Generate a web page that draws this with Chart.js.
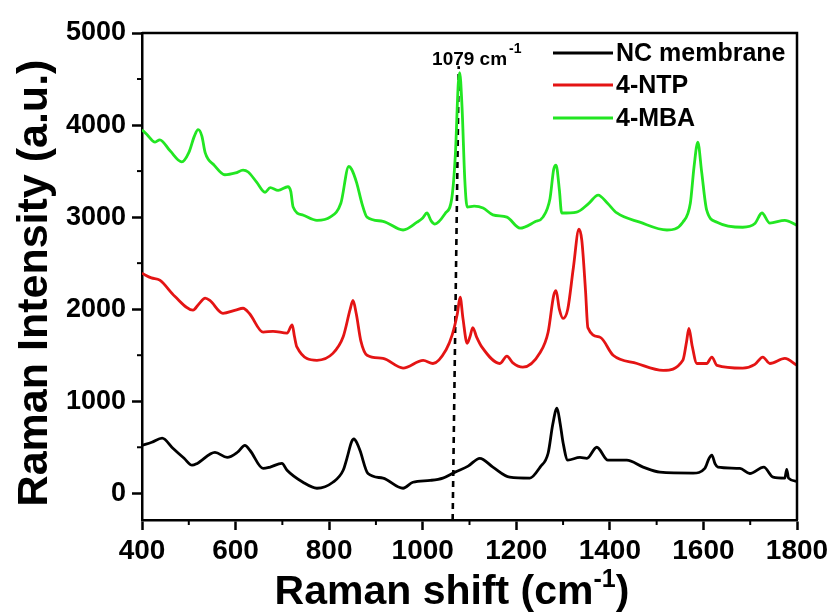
<!DOCTYPE html>
<html>
<head>
<meta charset="utf-8">
<script src="https://cdn.jsdelivr.net/npm/chart.js@4.4.1/dist/chart.umd.min.js"></script>
<style>
html,body{margin:0;padding:0;background:#fff;}
#wrap{width:839px;height:613px;position:relative;}
</style>
</head>
<body>
<div id="wrap"><canvas id="c" width="839" height="613"></canvas></div>
<script>
// ---- data ----
const seriesLabels = ["NC membrane", "4-NTP", "4-MBA"];
const seriesColors = ["#000000", "#e41414", "#22e622"];

const ncX = [400,421,443,466,490,507,518,556,582,605,620,631,659,674,699,710,744,774,808,830,838,848,853,860,866,883,915,958,979,1016,1043,1069,1097,1122,1150,1186,1229,1251,1268,1278,1287,1294,1300,1310,1336,1351,1372,1396,1436,1471,1507,1578,1603,1612,1618,1625,1631,1678,1699,1729,1749,1774,1778,1782,1800];
const ncY = [520,555,600,490,380,305,325,445,390,450,520,465,270,285,325,250,120,55,120,250,380,560,590,540,465,215,165,55,120,140,165,230,295,380,285,175,165,285,435,750,925,750,550,360,390,380,500,360,360,285,230,220,270,380,415,320,285,270,215,285,175,165,260,165,130];

const ntpX = [400,420,438,470,509,522,535,545,573,600,616,630,659,680,710,721,726,731,774,808,830,845,851,858,868,881,915,958,1001,1022,1050,1063,1074,1080,1086,1095,1101,1107,1115,1127,1165,1180,1192,1214,1251,1268,1280,1285,1292,1300,1310,1322,1334,1340,1348,1353,1379,1407,1458,1514,1556,1564,1569,1576,1586,1607,1618,1629,1684,1710,1727,1742,1774,1800];
const ntpY = [2390,2340,2315,2140,1990,2060,2120,2095,1955,1990,2010,1950,1750,1760,1740,1830,1700,1590,1445,1520,1700,2000,2095,1950,1650,1500,1465,1360,1445,1410,1560,1720,1950,2130,1900,1630,1700,1800,1700,1585,1410,1490,1420,1370,1530,1750,2150,2200,2000,1900,2000,2450,2870,2750,2200,1800,1695,1500,1410,1335,1445,1650,1790,1600,1410,1410,1480,1390,1360,1400,1480,1410,1465,1390];

const mbaX = [400,410,428,438,460,485,500,512,520,528,535,555,577,600,616,627,645,663,674,691,712,718,723,745,774,802,825,842,848,859,870,881,915,958,988,1000,1009,1018,1026,1048,1062,1070,1076,1079,1084,1090,1095,1110,1129,1150,1180,1208,1240,1257,1272,1280,1285,1292,1297,1329,1355,1375,1395,1415,1464,1522,1556,1572,1580,1588,1596,1607,1629,1684,1710,1725,1742,1774,1800];
const mbaY = [3950,3900,3815,3840,3720,3600,3700,3880,3950,3880,3700,3560,3460,3480,3510,3490,3380,3270,3320,3290,3330,3280,3110,3020,2965,3000,3150,3550,3520,3370,3150,3000,2955,2860,2945,2990,3045,2960,2925,3040,3200,3700,4450,4570,4200,3400,3110,3120,3100,3025,3000,2880,2950,3000,3200,3520,3565,3300,3045,3055,3150,3240,3150,3045,2945,2860,2945,3150,3550,3815,3500,3075,2945,2890,2930,3045,2935,2965,2910];

const markerX = [1064, 1077];
const markerY = [-290, 4640];
const markerLabel = "1079 cm";
const markerSup = "-1";

const xTicks = [400,600,800,1000,1200,1400,1600,1800];
const xMinor = [500,700,900,1100,1300,1500,1700];
const yTicks = [0,1000,2000,3000,4000,5000];
const yMinor = [500,1500,2500,3500,4500];

const FONT = "'Liberation Sans', Arial, sans-serif";

function pts(xs, ys){ return xs.map((x,i)=>({x:x, y:ys[i]})); }

const lineStyle = {borderWidth:2.8, pointRadius:0, fill:false, cubicInterpolationMode:'monotone'};

const extras = {
  id:'extras',
  afterDraw(chart){
    const ctx = chart.ctx, a = chart.chartArea;
    const xs = chart.scales.x, ys = chart.scales.y;
    ctx.save();
    ctx.strokeStyle = '#000'; ctx.lineWidth = 2.5;
    // top & right frame
    ctx.beginPath();
    ctx.moveTo(a.left, a.top); ctx.lineTo(a.right, a.top); ctx.lineTo(a.right, a.bottom);
    ctx.stroke();
    // minor ticks
    ctx.lineWidth = 2;
    xMinor.forEach(v=>{ const p = xs.getPixelForValue(v); ctx.beginPath(); ctx.moveTo(p, a.bottom); ctx.lineTo(p, a.bottom+5); ctx.stroke(); });
    yMinor.forEach(v=>{ const p = ys.getPixelForValue(v); ctx.beginPath(); ctx.moveTo(a.left, p); ctx.lineTo(a.left-5, p); ctx.stroke(); });

    // legend
    ctx.font = "bold 25px " + FONT;
    ctx.textBaseline = 'middle'; ctx.textAlign = 'left';
    const rows = [53, 85, 118];
    chart.data.datasets.slice(0,3).forEach((ds,i)=>{
      ctx.strokeStyle = ds.borderColor; ctx.lineWidth = 2.8;
      ctx.beginPath(); ctx.moveTo(553, rows[i]); ctx.lineTo(613, rows[i]); ctx.stroke();
      ctx.fillStyle = '#000';
      ctx.fillText(ds.label, 616, rows[i]+1);
    });

    // annotation
    ctx.fillStyle = '#000';
    ctx.textBaseline = 'alphabetic';
    ctx.font = "bold 19px " + FONT;
    const ax = xs.getPixelForValue(1020), ay = ys.getPixelForValue(4655);
    ctx.fillText(markerLabel, ax, ay);
    const w = ctx.measureText(markerLabel).width;
    ctx.font = "bold 14px " + FONT;
    ctx.fillText(markerSup, ax + w + 2, ay - 12);

    // x title
    const big = "bold 41px " + FONT, sup = "bold 25px " + FONT;
    ctx.font = big; const t1 = "Raman shift (cm"; const w1 = ctx.measureText(t1).width;
    ctx.font = sup; const w2 = ctx.measureText("-1").width;
    ctx.font = big; const w3 = ctx.measureText(")").width;
    const tot = w1 + w2 + w3;
    let sx = 452 - tot/2, by = 604;
    ctx.font = big; ctx.fillText(t1, sx, by);
    ctx.font = sup; ctx.fillText("-1", sx + w1, by - 17);
    ctx.font = big; ctx.fillText(")", sx + w1 + w2, by);

    // y title
    ctx.translate(47, 283); ctx.rotate(-Math.PI/2);
    ctx.font = "bold 43px " + FONT; ctx.textAlign = 'center';
    ctx.fillText("Raman Intensity (a.u.)", 0, 0);
    ctx.restore();
  }
};

new Chart(document.getElementById('c'), {
  type:'line',
  data:{
    datasets:[
      Object.assign({label:seriesLabels[0], data:pts(ncX, ncY), borderColor:seriesColors[0]}, lineStyle),
      Object.assign({label:seriesLabels[1], data:pts(ntpX, ntpY), borderColor:seriesColors[1]}, lineStyle),
      Object.assign({label:seriesLabels[2], data:pts(mbaX, mbaY), borderColor:seriesColors[2]}, lineStyle),
      {label:'marker', data:pts(markerX, markerY), borderColor:'#000', borderWidth:2.6, borderDash:[6,5], pointRadius:0, tension:0}
    ]
  },
  options:{
    responsive:false, animation:false,
    layout:{padding:{top:33, right:42, left:0, bottom:0}},
    plugins:{legend:{display:false}, tooltip:{enabled:false}},
    scales:{
      x:{type:'linear', min:400, max:1800,
        afterBuildTicks(s){ s.ticks = xTicks.map(v=>({value:v})); },
        afterFit(s){ s.height = 93; },
        ticks:{color:'#000', font:{family:FONT, size:28, weight:'bold'}, padding:4, maxRotation:0, callback:v=>String(v)},
        grid:{drawOnChartArea:false, drawTicks:true, tickLength:10, tickWidth:2.5, tickColor:'#000'},
        border:{color:'#000', width:2.5}
      },
      y:{type:'linear', min:-290, max:5000,
        afterBuildTicks(s){ s.ticks = yTicks.map(v=>({value:v})); },
        afterFit(s){ s.width = 142; },
        ticks:{color:'#000', font:{family:FONT, size:27, weight:'bold'}, padding:6, callback:v=>String(v)},
        grid:{drawOnChartArea:false, drawTicks:true, tickLength:10, tickWidth:2.5, tickColor:'#000'},
        border:{color:'#000', width:2.5}
      }
    }
  },
  plugins:[extras]
});
</script>
</body>
</html>
